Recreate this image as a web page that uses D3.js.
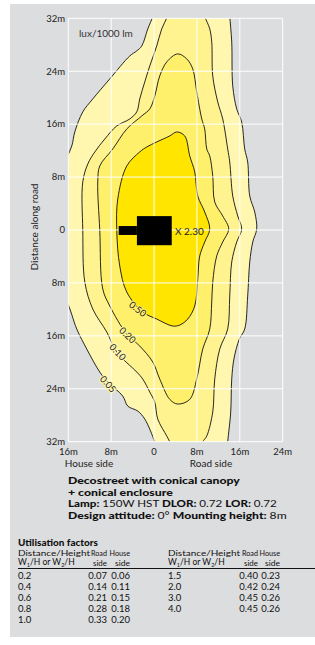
<!DOCTYPE html>
<html><head><meta charset="utf-8">
<script src="https://cdn.jsdelivr.net/npm/d3@7"></script>
<style>
html,body{margin:0;padding:0;background:#fff;}
svg{display:block;font-family:Lato,"Open Sans",sans-serif;}
</style></head>
<body>
<script>
// ---- data (metres, x = across road, y = along road) ----
const levels = ["0.05", "0.10", "0.20", "0.50"];
const levelColors = ["#fff7b0", "#fff390", "#fff06c", "#ffe500"];
const contour005 = [[0.0,34],[-0.24,32.36],[-1.17,30.4],[-2.29,27.83],[-3.23,27.07],[-4.53,26.31],[-8.26,22.84],[-11.43,19.81],[-13.3,17.85],[-14.79,14.82],[-15.35,12.7],[-16.3,11.0],[-18,9],[-18,-9],[-16.3,-10.8],[-14.42,-14.97],[-12.55,-18.0],[-10.13,-21.47],[-8.63,-22.99],[-5.84,-25.1],[-4.9,-26.62],[-3.04,-27.37],[-1.73,-28.58],[0.13,-32.06],[0.8,-34],
  [13.6,-34],[13.74,-32.06],[14.3,-27.52],[14.49,-22.53],[14.9,-19.5],[15.9,-16.5],[16.91,-14.97],[17.47,-9.98],[17.85,-4.84],[18.41,-1.81],[19.15,0.15],[18.78,2.72],[17.85,5.14],[17.47,10.28],[16.91,12.25],[16.35,16.33],[15.42,18.3],[14.68,21.78],[14.49,28.43],[14.12,32.36],[14.0,34]];
const contour010 = [[3.3,34],[2.55,32.36],[1.43,30.4],[0.5,27.83],[-0.8,24.8],[-1.73,22.4],[-2.67,19.81],[-3.23,17.85],[-4.53,16.79],[-6.96,15.73],[-9.19,13.76],[-11.05,11.8],[-12.36,9.98],[-13.3,7.26],[-13.3,0],[-12.92,-7.86],[-11.43,-11.95],[-8.82,-15.43],[-6.96,-18.45],[-3.23,-21.47],[-2.11,-22.53],[-0.8,-24.5],[0.13,-26.01],[0.69,-28.58],[2.37,-31.15],[2.93,-32.06],[3.4,-34],
  [9.0,-34],[9.08,-32.06],[9.83,-31.15],[10.95,-27.52],[11.32,-22.53],[12.25,-18.0],[13.74,-14.97],[14.12,-9.98],[14.49,-4.84],[15.42,-1.81],[16.35,0.15],[15.61,2.12],[14.68,5.14],[14.12,10.28],[13.74,12.25],[12.81,16.79],[11.88,19.36],[10.95,23.29],[10.76,28.43],[10.39,30.4],[9.45,32.36],[9.2,34]];
const contour020 = [[4.42,26.62],[6.1,25.86],[7.22,24.35],[7.96,20.87],[8.9,16.79],[9.45,15.27],[9.83,12.25],[10.39,11.19],[10.95,8.17],[11.32,4.23],[12.81,2.12],[13.93,0.15],[12.81,-1.81],[11.69,-3.93],[10.95,-7.86],[10.76,-10.89],[10.39,-14.97],[9.08,-18.0],[7.96,-22.53],[6.66,-25.6],[4.42,-26.31],[2.93,-25.6],[1.06,-22.53],[-0.24,-19.96],[-2.67,-17.54],[-5.09,-15.73],[-8.26,-11.49],[-9.57,-8.92],[-10.13,0],[-10.5,7.26],[-10.13,9.68],[-7.7,12.25],[-5.09,15.27],[-2.29,17.24],[-0.8,18.3],[0.13,20.26],[1.06,23.29],[2.37,25.41]];
const contour050 = [[4.23,14.82],[5.72,14.22],[6.66,11.19],[7.59,8.77],[8.15,5.14],[9.45,2.72],[10.39,0.15],[9.45,-1.81],[8.52,-3.93],[8.15,-7.41],[7.59,-11.49],[6.28,-13.46],[4.79,-14.37],[3.49,-14.52],[0.5,-13.46],[-2.11,-12.4],[-5.09,-9.38],[-6.4,-5.44],[-6.96,0],[-6.77,4.69],[-5.09,9.68],[-2.67,11.8],[-1.36,12.55],[0.5,13.31],[2.93,14.22]];
// contour label anchors [x, y, angle]
const labelPos = [[-8.6,-23.3,48],[-6.8,-18.45,46],[-4.95,-15.9,43],[-3.05,-11.95,38]];
const maxValue = "2.30";
const maxPos = [3.9, 0];
const lumHead = [[-3.2,2.1],[3.3,-2.3]];
const lumArm = [[-6.6,0.6],[-3.2,-0.75]];

const xTicks = [-16,-8,0,8,16,24];
const xTickLabels = ["16m","8m","0","8m","16m","24m"];
const yTicks = [32,24,16,8,0,-8,-16,-24,-32];
const yTickLabels = ["32m","24m","16m","8m","0","8m","16m","24m","32m"];

const titleLines = ["Decostreet with conical canopy", "+ conical enclosure"];
const lampInfo = [["Lamp: ",true],["150W HST ",false],["DLOR: ",true],["0.72 ",false],["LOR: ",true],["0.72",false]];
const designInfo = [["Design attitude: ",true],["0° ",false],["Mounting height: ",true],["8m",false]];

const ratios1 = ["0.2","0.4","0.6","0.8","1.0"];
const road1 = ["0.07","0.14","0.21","0.28","0.33"];
const house1 = ["0.06","0.11","0.15","0.18","0.20"];
const ratios2 = ["1.5","2.0","3.0","4.0"];
const road2 = ["0.40","0.42","0.45","0.45"];
const house2 = ["0.23","0.24","0.26","0.26"];

// ---- drawing ----
const W = 315, H = 645;
const svg = d3.select("body").append("svg").attr("width", W).attr("height", H);
svg.append("rect").attr("x",10).attr("y",4).attr("width",305).attr("height",633).attr("fill","#dcdddf");

const x = d3.scaleLinear().domain([-16,24]).range([68.3,282.7]);
const y = d3.scaleLinear().domain([-32,32]).range([441.7,18.3]);

svg.append("clipPath").attr("id","plotclip").append("rect")
  .attr("x",x(-16)).attr("y",y(32)).attr("width",x(24)-x(-16)).attr("height",y(-32)-y(32));

const line = d3.line().x(d=>x(d[0])).y(d=>y(d[1])).curve(d3.curveCatmullRomClosed.alpha(0.5));
const contours = [contour005, contour010, contour020, contour050];

const plot = svg.append("g").attr("clip-path","url(#plotclip)");
plot.selectAll("path.fill").data(contours).join("path").attr("class","fill")
  .attr("d", line).attr("fill",(d,i)=>levelColors[i]).attr("stroke","none");

// grid
const grid = svg.append("g").attr("stroke","#ffffff").attr("stroke-width",1);
grid.selectAll("line.v").data(xTicks).join("line").attr("class","v")
  .attr("x1",d=>x(d)).attr("x2",d=>x(d)).attr("y1",y(32)).attr("y2",y(-32));
grid.selectAll("line.h").data(yTicks).join("line").attr("class","h")
  .attr("y1",d=>y(d)).attr("y2",d=>y(d)).attr("x1",x(-16)).attr("x2",x(24));

plot.selectAll("path.ct").data(contours).join("path").attr("class","ct")
  .attr("d", line).attr("fill","none").attr("stroke","#111").attr("stroke-width",0.9);

// contour labels
const haloColors = ["#fff7b0","#fff7b0","#fff390","#fff06c"];
svg.selectAll("text.cl").data(labelPos).join("text").attr("class","cl")
  .attr("transform",d=>`translate(${x(d[0])},${y(d[1])}) rotate(${d[2]})`)
  .attr("text-anchor","middle").attr("dy","0.35em")
  .attr("font-size",9.5).attr("fill","#222")
  .attr("stroke",(d,i)=>haloColors[i]).attr("stroke-width",2.5).attr("paint-order","stroke")
  .text((d,i)=>levels[i]);

// luminaire
svg.append("rect").attr("x",x(lumArm[0][0])).attr("y",y(lumArm[0][1]))
  .attr("width",x(lumArm[1][0])-x(lumArm[0][0])).attr("height",y(lumArm[1][1])-y(lumArm[0][1])).attr("fill","#000");
svg.append("rect").attr("x",x(lumHead[0][0])).attr("y",y(lumHead[0][1]))
  .attr("width",x(lumHead[1][0])-x(lumHead[0][0])).attr("height",y(lumHead[1][1])-y(lumHead[0][1])).attr("fill","#000");
svg.append("text").attr("x",x(maxPos[0])).attr("y",y(maxPos[1])).attr("dy","0.45em")
  .attr("font-size",10).attr("fill","#222").text("X  " + maxValue);

svg.append("text").attr("x",79).attr("y",37).attr("font-size",10).attr("fill","#333").text("lux/1000 lm");

// axes labels
svg.selectAll("text.yt").data(yTicks).join("text").attr("class","yt")
  .attr("x",65).attr("y",d=>y(d)).attr("dy","0.35em").attr("text-anchor","end")
  .attr("font-size",9.5).attr("fill","#222").text((d,i)=>yTickLabels[i]);
svg.selectAll("text.xt").data(xTicks).join("text").attr("class","xt")
  .attr("x",d=>x(d)).attr("y",455).attr("text-anchor","middle")
  .attr("font-size",9.5).attr("fill","#222").text((d,i)=>xTickLabels[i]);
svg.append("text").attr("x",89).attr("y",466.5).attr("text-anchor","middle").attr("font-size",10).attr("fill","#222").text("House side");
svg.append("text").attr("x",211).attr("y",466.5).attr("text-anchor","middle").attr("font-size",10).attr("fill","#222").text("Road side");
svg.append("text").attr("transform",`translate(38,${y(0)-3}) rotate(-90)`).attr("text-anchor","middle")
  .attr("font-size",10).attr("fill","#222").text("Distance along road");

// description: lines stretched to the reference widths
function fitLine(parts, yy, target){
  const t = svg.append("text").attr("font-size",10).attr("fill","#111");
  t.selectAll("tspan").data(parts).join("tspan").attr("font-weight",d=>d[1]?900:400).text(d=>d[0]);
  const w = t.node().getComputedTextLength();
  t.attr("transform",`translate(68,${yy}) scale(${target/w},1)`);
}
fitLine([[titleLines[0],true]], 484, 172);
fitLine([[titleLines[1],true]], 495.5, 105);
fitLine(lampInfo, 507, 209);
fitLine(designInfo, 519, 219);

// table
const tf = 8.5;
function fitText(str, xx, yy, target, anchor, size, weight){
  const t = svg.append("text").attr("font-size",size||tf).attr("font-weight",weight||400).attr("fill","#111").text(str);
  const w = t.node().getComputedTextLength();
  const sx = target ? target/w : 1;
  const x0 = anchor==="end" ? xx - w*sx : xx;
  t.attr("transform",`translate(${x0},${yy}) scale(${sx},1)`);
  return t;
}
fitText("Utilisation factors", 18, 545.5, 80, "start", 9, 900);
function header(xx){
  fitText("Distance/Height", xx, 555.5, 72, "start");
  const t = svg.append("text").attr("x",xx).attr("y",565).attr("font-size",tf).attr("fill","#111");
  t.append("tspan").text("W");
  t.append("tspan").attr("font-size",5.5).attr("dy",2).text("1");
  t.append("tspan").attr("dy",-2).text("/H or W");
  t.append("tspan").attr("font-size",5.5).attr("dy",2).text("2");
  t.append("tspan").attr("dy",-2).text("/H");
}
header(18); header(168);
const cols = [[107,"Road","side",16,14],[130,"House","side",20.5,15],[258,"Road","side",16,14],[280,"House","side",20.5,15]];
cols.forEach(c=>{
  fitText(c[1], c[0], 555.5, c[3], "end", 8.5);
  fitText(c[2], c[0], 565.5, c[4], "end", 8);
});
svg.append("line").attr("x1",18).attr("x2",315).attr("y1",568.5).attr("y2",568.5).attr("stroke","#111").attr("stroke-width",1);
const rowY = i => 578.5 + i*11;
function col(arr, xx, anchor){
  svg.append("g").selectAll("text").data(arr).join("text").attr("x",xx).attr("y",(d,i)=>rowY(i))
    .attr("text-anchor",anchor).attr("font-size",9.5).attr("fill","#111").text(d=>d);
}
col(ratios1,18,"start"); col(road1,107,"end"); col(house1,130,"end");
col(ratios2,168,"start"); col(road2,258,"end"); col(house2,280,"end");
</script>
</body></html>
